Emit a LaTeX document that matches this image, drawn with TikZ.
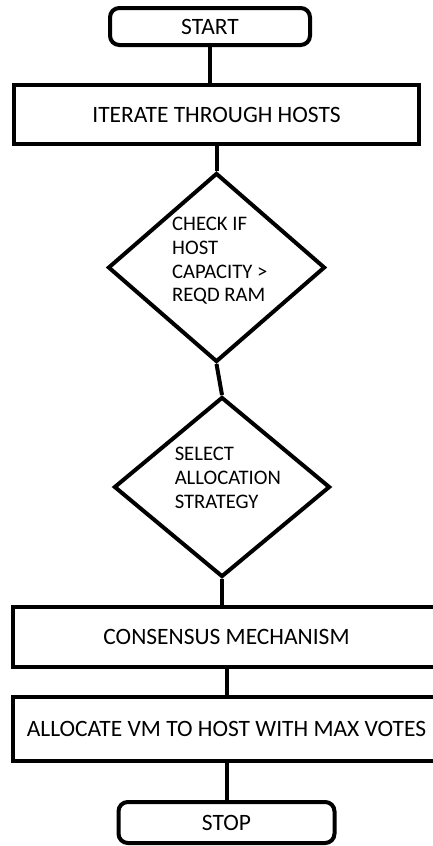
\documentclass[tikz,border=0pt]{standalone}
\usepackage{fontspec}
\setmainfont{Carlito}
\usetikzlibrary{shapes.geometric}

\tikzset{every picture/.style={line width=3pt}}
\tikzset{
  flowtext/.style={font=\fontsize{17.6}{17.6}\selectfont, text=black},
  procbox/.style={draw, rectangle, inner sep=0.75pt, flowtext},
  termbox/.style={procbox, rounded corners=7pt},
  decbox/.style={draw, diamond, inner sep=0pt},
  dectext/.style={align=left, inner sep=0pt, font=\fontsize{15.5}{17.8}\selectfont, text=black},
}

\begin{document}
\begin{tikzpicture}[x=0.75pt,y=0.75pt,yscale=-1,xscale=1]
\useasboundingbox (0,0) rectangle (432,846);

%Shape: Terminal [id:start]
\node [termbox, minimum width=150pt, minimum height=27.75pt] (start) at (210,26.5) {START};
%Shape: Rectangle [id:iterate]
\node [procbox, minimum width=303.75pt, minimum height=44.25pt] (iterate) at (216.5,114.5) {ITERATE THROUGH HOSTS};
%Shape: Diamond [id:check]
\node [decbox, minimum width=162.75pt, minimum height=141.75pt,
  label={[dectext, xshift=2.5pt, yshift=5pt]center:{CHECK IF\\HOST\\CAPACITY >\\REQD RAM}}] (check) at (216.5,267.5) {};
%Shape: Diamond [id:select]
\node [decbox, minimum width=162pt, minimum height=135pt,
  label={[dectext, xshift=4.4pt, yshift=7pt]center:{SELECT\\ALLOCATION\\STRATEGY}}] (select) at (222,487) {};
%Shape: Rectangle [id:consensus]
\node [procbox, minimum width=320.25pt, minimum height=45pt] (consensus) at (226.5,637) {CONSENSUS MECHANISM};
%Shape: Rectangle [id:allocate]
\node [procbox, minimum width=320.25pt, minimum height=48pt] (allocate) at (226.5,729) {ALLOCATE VM TO HOST WITH MAX VOTES};
%Shape: Terminal [id:stop]
\node [termbox, minimum width=162pt, minimum height=30.75pt] (stop) at (226.5,822.5) {STOP};

%Straight Lines [id:start-iterate]
\draw (start.south) -- (start.south |- iterate.north) ;
%Straight Lines [id:iterate-check]
\draw (iterate.south) -- (iterate.south |- check.north) ;
%Straight Lines [id:check-select]
\draw (check.south) -- (select.north) ;
%Straight Lines [id:select-consensus]
\draw (select.south) -- (select.south |- consensus.north) ;
%Straight Lines [id:consensus-allocate]
\draw (consensus.south) -- (consensus.south |- allocate.north) ;
%Straight Lines [id:allocate-stop]
\draw (allocate.south) -- (allocate.south |- stop.north) ;

\end{tikzpicture}
\end{document}
